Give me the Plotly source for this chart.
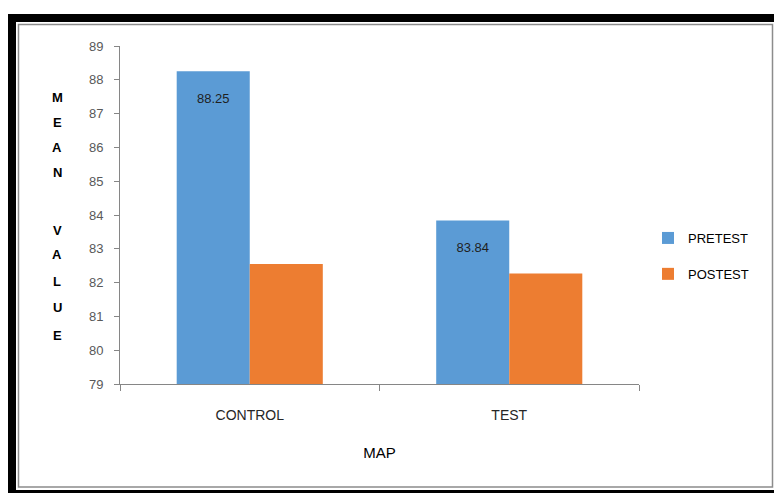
import plotly.graph_objects as go

categories = ["CONTROL", "TEST"]
pretest = [88.25, 83.84]
posttest = [82.55, 82.27]
pre_labels = ["\u00a0<br>88.25", "\u00a0<br>83.84"]
y_title_letters = ["M", "E", "A", "N", "", "V", "A", "L", "U", "E"]

W, H = 774, 493
L, R, T, B = 120, 135, 46, 109
pw, ph = W - L - R, H - T - B

def px(x):
    return (x - L) / pw

def py(y):
    return (H - B - y) / ph

FONT = "Liberation Sans"

fig = go.Figure()
fig.add_trace(go.Bar(
    x=categories, y=pretest, name="PRETEST", marker_color="#5B9BD5",
    legendgroup="pre",
    text=pre_labels, textposition="inside", insidetextanchor="end", textangle=0,
    textfont=dict(color="#1f1f1f", size=13, family=FONT),
    marker_line_width=0,
))
fig.add_trace(go.Bar(
    x=categories, y=posttest, name="POSTEST", marker_color="#ED7D31",
    legendgroup="post",
    marker_line_width=0,
))

fig.update_layout(
    width=W, height=H,
    margin=dict(l=L, r=R, t=T, b=B, autoexpand=False),
    paper_bgcolor="white", plot_bgcolor="white",
    barmode="group", bargap=0.437, bargroupgap=0,
    font=dict(family=FONT, color="#404040", size=13),
    showlegend=True,
    legend=dict(x=px(648), y=py(223), xanchor="left", yanchor="top",
                font=dict(size=13, color="#000000"), tracegroupgap=16,
                itemwidth=30, bgcolor="rgba(0,0,0,0)"),
    xaxis=dict(showline=True, linecolor="#868686", linewidth=1,
               ticks="outside", tickson="boundaries", ticklen=6, tickcolor="#868686",
               tickfont=dict(size=14, color="#262626"), showgrid=False,
               ticklabelstandoff=18,
               title=dict(text="MAP", font=dict(size=15, color="#000000"), standoff=25)),
    yaxis=dict(range=[79, 89], dtick=1, showline=True, linecolor="#868686", linewidth=1,
               ticks="outside", ticklen=5, tickcolor="#868686", showgrid=False,
               ticklabelstandoff=8,
               tickfont=dict(size=13, color="#595959"), zeroline=False),
)

ys = [97, 122, 147, 172, 0, 230, 255, 281, 307, 335]
for ch, yy in zip(y_title_letters, ys):
    if ch:
        fig.add_annotation(text="<b>" + ch + "</b>", x=px(57), y=py(yy), xref="paper", yref="paper",
                           showarrow=False, font=dict(size=13, color="#000000"),
                           xanchor="center", yanchor="middle")

# frame
shapes = [
    dict(type="rect", x0=px(8), x1=px(774), y0=py(14), y1=py(22), fillcolor="black", line_width=0),
    dict(type="rect", x0=px(8), x1=px(16), y0=py(14), y1=py(493), fillcolor="black", line_width=0),
    dict(type="rect", x0=px(8), x1=px(774), y0=py(490), y1=py(493), fillcolor="black", line_width=0),
    dict(type="rect", x0=px(18.5), x1=px(772.5), y0=py(24.5), y1=py(487), fillcolor="rgba(0,0,0,0)",
         line=dict(color="#8c8c8c", width=1.5)),
]
for s in shapes:
    s.update(xref="paper", yref="paper", layer="above")
fig.update_layout(shapes=shapes)

fig.write_html("out.html")
